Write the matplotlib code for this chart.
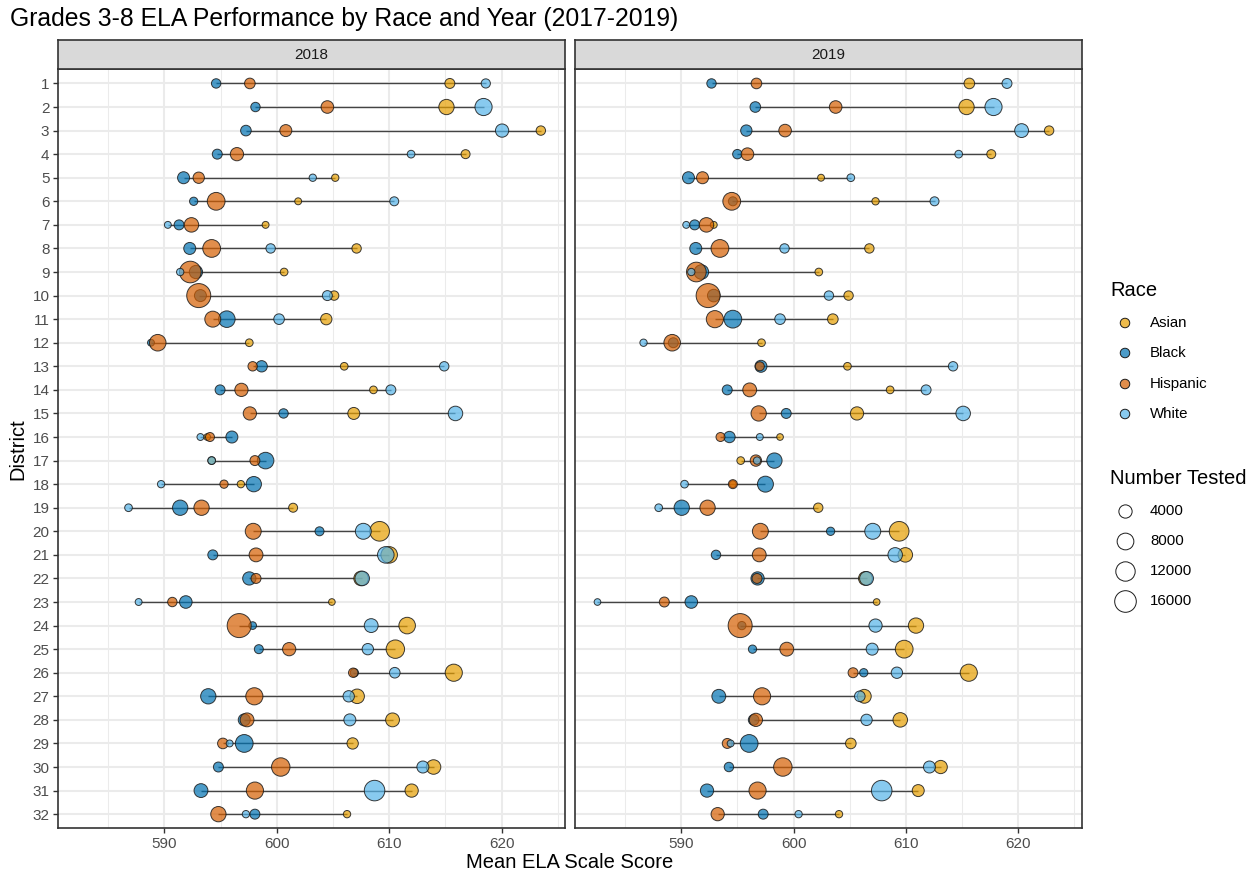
import numpy as np
import matplotlib
matplotlib.use("Agg")
import matplotlib.pyplot as plt

nan = np.nan
plt.rcParams['font.family'] = ['Liberation Sans', 'DejaVu Sans']

districts = list(range(1, 33))
races = ["Asian", "Black", "Hispanic", "White"]
race_colors = {"Asian": "#E69F00", "Black": "#0072B2", "Hispanic": "#D55E00", "White": "#56B4E9"}
years = ["2018", "2019"]

asian_2018 = [615.4, 615.1, 623.5, 616.8, 605.2, 601.9, 599.0, 607.1, 600.65, 605.1, 604.4, 597.55, 606.0, 608.6, 606.85, 593.8,
              594.2, 596.8, 601.45, 609.15, 610.0, 607.5, 604.9, 611.6, 610.55, 615.75, 607.15, 610.3, 606.75, 613.95, 612.0, 606.25]
black_2018 = [594.6, 598.1, 597.25, 594.7, 591.7, 592.6, 591.3, 592.25, 592.8, 593.2, 595.55, 588.8, 598.65, 594.95, 600.6, 596.0,
              599.0, 597.95, 591.4, 603.8, 594.3, 597.55, 591.9, 597.85, 598.4, 606.9, 593.9, 597.1, 597.1, 594.8, 593.25, 598.05]
hispanic_2018 = [597.6, 604.5, 600.8, 596.45, 593.05, 594.6, 592.4, 594.2, 592.3, 593.05, 594.3, 589.4, 597.85, 596.85, 597.6, 594.05,
                 598.05, 595.3, 593.3, 597.9, 598.15, 598.15, 590.7, 596.65, 601.1, 606.8, 598.0, 597.35, 595.2, 600.35, 598.05, 594.8]
white_2018 = [618.6, 618.4, 620.05, 611.95, 603.2, 610.45, 590.3, 599.45, 591.4, 604.5, 600.2, nan, 614.9, 610.15, 615.9, 593.2,
              594.2, 589.7, 586.8, 607.7, 609.7, 607.6, 587.7, 608.4, 608.1, 610.5, 606.4, 606.5, 595.8, 613.0, 608.7, 597.25]

asian_n_2018 = [1500, 6200, 1200, 1000, 400, 300, 300, 1200, 500, 1200, 2400, 500, 500, 500, 2900, 250,
                500, 400, 1000, 12500, 7800, 5300, 250, 7800, 10500, 8600, 5300, 4600, 2400, 5300, 4000, 400]
black_n_2018 = [1200, 1200, 1900, 1500, 2900, 700, 1500, 2900, 4000, 2900, 7800, 300, 2400, 1500, 1200, 2900,
                7800, 6200, 6200, 1000, 1500, 4000, 3400, 500, 1000, 700, 6200, 2900, 9500, 1500, 4600, 1500]
hispanic_n_2018 = [1900, 3400, 2900, 4000, 2400, 9500, 5300, 9500, 16000, 21000, 7000, 7800, 1200, 4000, 4000, 1000,
                   1500, 700, 6200, 7000, 4600, 1500, 1200, 21000, 4000, 1200, 8600, 4600, 1900, 10500, 8600, 6200]
white_n_2018 = [1100, 8600, 4000, 500, 400, 1000, 300, 1200, 400, 1500, 1900, nan, 1200, 1500, 5300, 300,
                500, 400, 500, 7000, 7800, 5300, 300, 4600, 2400, 1900, 2400, 2900, 300, 2900, 14000, 400]

asian_2019 = [615.65, 615.4, 622.75, 617.6, 602.45, 607.3, 592.9, 606.75, 602.25, 604.9, 603.5, 597.15, 604.8, 608.6, 605.65, 598.8,
              595.3, 594.6, 602.2, 609.4, 609.95, 606.4, 607.4, 610.9, 609.85, 615.6, 606.3, 609.5, 605.1, 613.1, 611.1, 604.05]
black_2019 = [592.7, 596.6, 595.8, 595.0, 590.65, 594.6, 591.2, 591.3, 591.8, 592.9, 594.6, 589.3, 597.1, 594.1, 599.35, 594.3,
              598.3, 597.5, 590.05, 603.3, 593.1, 596.8, 590.9, 595.4, 596.35, 606.25, 593.35, 596.45, 596.05, 594.25, 592.3, 597.3]
hispanic_2019 = [596.7, 603.75, 599.25, 595.9, 591.9, 594.5, 592.25, 593.45, 591.35, 592.4, 593.0, 589.2, 597.0, 596.1, 596.9, 593.5,
                 596.65, 594.6, 592.35, 597.05, 596.95, 596.75, 588.5, 595.25, 599.4, 605.3, 597.2, 596.65, 594.1, 599.05, 596.8, 593.25]
white_2019 = [619.0, 617.8, 620.3, 614.7, 605.1, 612.55, 590.45, 599.2, 590.9, 603.15, 598.8, 586.65, 614.2, 611.8, 615.1, 597.0,
              596.75, 590.3, 588.0, 607.05, 609.05, 606.5, 582.55, 607.3, 607.0, 609.2, 605.9, 606.5, 594.4, 612.1, 607.85, 600.45]

asian_n_2019 = [1900, 6200, 1200, 1000, 300, 400, 300, 1200, 500, 1200, 1900, 500, 500, 500, 4000, 250,
                500, 300, 1200, 12500, 5300, 4600, 250, 6200, 9500, 8600, 4600, 5300, 1900, 4000, 2900, 400]
black_n_2019 = [1200, 1900, 2400, 1200, 2900, 1000, 1500, 2900, 5300, 3400, 9500, 1500, 2900, 1500, 1500, 2400,
                6200, 7000, 6200, 700, 1200, 4000, 3400, 700, 700, 700, 4600, 1900, 9500, 1200, 4000, 1500]
hispanic_n_2019 = [1900, 3400, 3400, 3400, 2900, 9500, 5300, 9500, 12500, 21000, 8600, 7800, 1000, 4600, 6200, 1000,
                   2400, 1000, 6200, 7000, 4600, 1500, 1500, 21000, 4600, 1500, 8600, 4000, 1500, 10500, 8600, 4000]
white_n_2019 = [1500, 8600, 4600, 500, 500, 1000, 300, 1200, 400, 1200, 1900, 400, 1200, 1500, 5300, 300,
                400, 500, 500, 7000, 5300, 4600, 250, 4000, 2900, 2400, 1900, 2400, 300, 2900, 14000, 400]

size_breaks = [4000, 8000, 12000, 16000]

scores = {
    "2018": {"Asian": asian_2018, "Black": black_2018, "Hispanic": hispanic_2018, "White": white_2018},
    "2019": {"Asian": asian_2019, "Black": black_2019, "Hispanic": hispanic_2019, "White": white_2019},
}
counts = {
    "2018": {"Asian": asian_n_2018, "Black": black_n_2018, "Hispanic": hispanic_n_2018, "White": white_n_2018},
    "2019": {"Asian": asian_n_2019, "Black": black_n_2019, "Hispanic": hispanic_n_2019, "White": white_n_2019},
}

W, H = 1257, 877
DPI = 100
fig = plt.figure(figsize=(W / DPI, H / DPI), dpi=DPI)

N_MIN, N_MAX = 100, 21000


def diam_px(n):
    n = np.asarray(n, dtype=float)
    frac = np.clip((n - N_MIN) / (N_MAX - N_MIN), 0, 1)
    size = 1 + 5 * np.sqrt(frac)
    fs = size * 2.845 + 0.945
    return fs * 4 / 3


def area_pt2(n):
    return (diam_px(n) * 72 / DPI) ** 2


def rect(x0, y0, x1, y1):
    return [x0 / W, 1 - y1 / H, (x1 - x0) / W, (y1 - y0) / H]


panel_x = [(58.3, 565.0), (575.0, 1081.7)]
ptop, pbot = 69.3, 828.3
strip_top = 40.0
grid_col = "#EBEBEB"
dark = "#333333"
txt_col = "#4D4D4D"

for i, yr in enumerate(years):
    x0, x1 = panel_x[i]
    ax = fig.add_axes(rect(x0, ptop, x1, pbot))
    ax.set_xlim(580.55, 625.65)
    ax.set_ylim(32.6, 0.4)
    ax.set_xticks([590, 600, 610, 620])
    ax.set_xticks([585, 595, 605, 615, 625], minor=True)
    ax.set_yticks(districts)
    ax.tick_params(axis='y', which='minor', left=False)
    ax.grid(True, which='major', color=grid_col, lw=1.5, zorder=0)
    ax.grid(True, which='minor', axis='x', color=grid_col, lw=0.75, zorder=0)
    ax.set_axisbelow(True)
    for s in ax.spines.values():
        s.set_color(dark)
        s.set_linewidth(1.2)
    ax.tick_params(axis='both', which='major', length=3.4, width=1.0, color=dark,
                   labelsize=11, labelcolor=txt_col, pad=3)
    ax.tick_params(axis='x', which='minor', length=0)
    if i == 0:
        ax.set_yticklabels([str(d) for d in districts])
    else:
        ax.set_yticklabels([])
        ax.tick_params(axis='y', length=0)
        ax.set_yticks(districts)
    # connecting lines
    for j, d in enumerate(districts):
        vals = [scores[yr][r][j] for r in races]
        vals = [v for v in vals if not np.isnan(v)]
        ax.plot([min(vals), max(vals)], [d, d], color="#444444", lw=1.0, zorder=2, solid_capstyle='butt')
    # points
    for r in races:
        xs = np.array(scores[yr][r], dtype=float)
        ns = np.array(counts[yr][r], dtype=float)
        m = ~np.isnan(xs)
        ax.scatter(xs[m], np.array(districts)[m], s=area_pt2(ns[m]), c=race_colors[r], alpha=0.7,
                   edgecolors='none', zorder=3)
        ax.scatter(xs[m], np.array(districts)[m], s=area_pt2(ns[m]), facecolors='none',
                   edgecolors='#1a1a1a', linewidths=0.7, alpha=0.85, zorder=3)
    # strip
    sax = fig.add_axes(rect(x0, strip_top, x1, ptop))
    sax.set_facecolor("#D9D9D9")
    sax.set_xticks([])
    sax.set_yticks([])
    for s in sax.spines.values():
        s.set_color(dark)
        s.set_linewidth(1.2)
    sax.text(0.5, 0.5, yr, transform=sax.transAxes, ha='center', va='center', fontsize=11, color="#1A1A1A")

# overlay for titles and legend in pixel coordinates
ov = fig.add_axes([0, 0, 1, 1])
ov.set_xlim(0, W)
ov.set_ylim(H, 0)
ov.axis('off')
ov.patch.set_alpha(0)

ov.text(10, 19, "Grades 3-8 ELA Performance by Race and Year (2017-2019)", ha='left', va='center',
        fontsize=17.8, color='black')
ov.text(570, 862, "Mean ELA Scale Score", ha='center', va='center', fontsize=14.5, color='black')
ov.text(18, 449, "District", ha='center', va='center', rotation=90, fontsize=14.5, color='black')

# Race legend
ov.text(1110, 291, "Race", ha='left', va='center', fontsize=14.5, color='black')
race_y = [323, 353, 384, 414]
for r, yy in zip(races, race_y):
    ov.scatter([1125], [yy], s=(9.5 * 72 / DPI) ** 2, c=race_colors[r], alpha=0.7, edgecolors='none')
    ov.scatter([1125], [yy], s=(9.5 * 72 / DPI) ** 2, facecolors='none', edgecolors='#1a1a1a', linewidths=0.7)
    ov.text(1150, yy, r, ha='left', va='center', fontsize=10.8, color='black')

# Size legend
ov.text(1110, 478, "Number Tested", ha='left', va='center', fontsize=14.5, color='black')
size_y = [511, 541, 571, 601]
for n, yy in zip(size_breaks, size_y):
    ov.scatter([1125], [yy], s=area_pt2(n), facecolors='white', edgecolors='#1a1a1a', linewidths=0.7)
    ov.text(1150, yy, str(n), ha='left', va='center', fontsize=10.8, color='black')

fig.savefig("out.png", dpi=DPI)
